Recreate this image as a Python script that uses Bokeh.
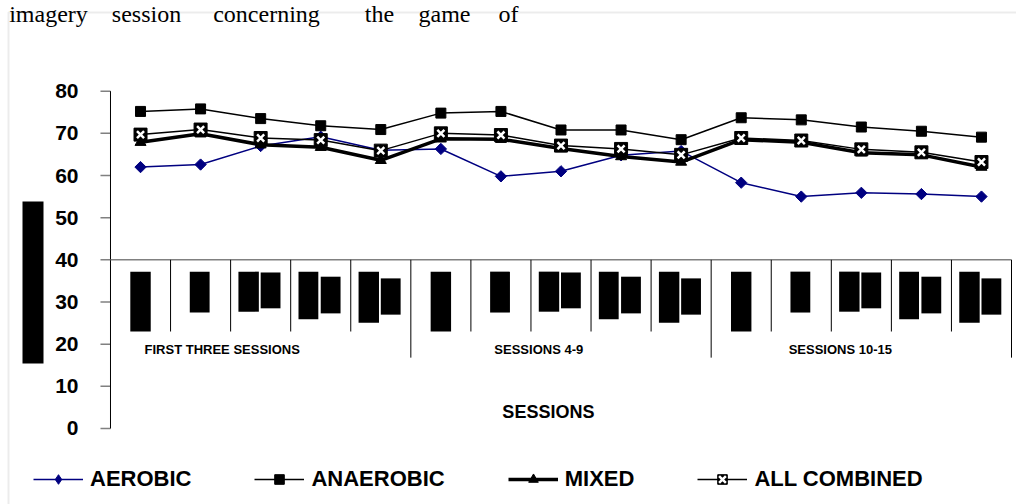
import numpy as np
from bokeh.plotting import figure
from bokeh.models import Range1d, Legend, LegendItem, BoxAnnotation, Label
from bokeh.core.properties import value
from bokeh.embed import file_html
from bokeh.resources import INLINE

# ---------------- data ----------------
sessions = list(range(1, 16))
aerobic = [62.0, 62.6, 67.0, 69.2, 66.0, 66.3, 59.8, 61.0, 64.8, 65.8, 58.3, 55.0, 55.9, 55.6, 55.0]
anaerobic = [75.2, 75.8, 73.5, 71.8, 70.9, 74.8, 75.2, 70.8, 70.8, 68.5, 73.7, 73.2, 71.5, 70.5, 69.1]
mixed = [67.9, 69.9, 67.3, 66.7, 63.6, 68.7, 68.6, 66.4, 64.5, 63.2, 68.5, 67.9, 65.4, 64.9, 62.0]
combined = [69.7, 70.9, 68.9, 68.4, 65.9, 70.0, 69.6, 67.1, 66.3, 64.9, 68.9, 68.3, 66.2, 65.5, 63.2]
series_names = ["AEROBIC", "ANAEROBIC", "MIXED", "ALL COMBINED"]

y_ticks = [0, 10, 20, 30, 40, 50, 60, 70, 80]
y_tick_labels = [str(t) for t in y_ticks]
x_axis_crossing = 40

group_labels = ["FIRST THREE SESSIONS", "SESSIONS 4-9", "SESSIONS 10-15"]
group_label_x = [1.86, 7.13, 12.15]
group_label_y = 18.8
group_size = 5
x_title = "SESSIONS"
x_title_pos = (7.29, 3.8)

caption_words = ["imagery", "session", "concerning", "the", "game", "of"]
caption_center_px = [48, 146, 266, 379, 444, 508]

# unreadable (blacked-out) category labels, repeated in every group
blk_pos = [0, 1, 2, 2, 3, 3, 4, 4]
blk_l = [0.33, 0.32, 0.13, 0.50, 0.13, 0.50, 0.13, 0.50]
blk_r = [0.67, 0.65, 0.47, 0.83, 0.46, 0.83, 0.47, 0.83]
blk_top = [37.2, 37.2, 37.2, 37.0, 37.2, 36.0, 37.2, 35.6]
blk_bot = [23.0, 27.5, 27.7, 28.5, 25.9, 27.3, 25.1, 27.0]
cat_tick_bottom = 23.0
group_tick_bottom = 16.8

# ---------------- figure ----------------
W, H = 1016, 504
n = len(sessions)
x = np.arange(n) + 0.5

p = figure(width=W, height=H, x_range=Range1d(-1.831, 15.083), y_range=Range1d(-18.03, 101.51),
           output_backend="svg", toolbar_location=None, x_axis_location=None, y_axis_location=None,
           min_border_left=0, min_border_right=0, min_border_top=0, min_border_bottom=0)
p.outline_line_color = None
p.grid.visible = False
p.background_fill_color = "white"

font = value("Liberation Sans")

# chart border (gray) and blacked-out y-axis title
p.add_layout(BoxAnnotation(left=8, right=3000, top=H - 12, bottom=-300,
                           left_units="screen", right_units="screen", top_units="screen", bottom_units="screen",
                           fill_color=None, line_color="#c0c0c0", line_width=2))
p.add_layout(BoxAnnotation(left=22, right=43, top=H - 201, bottom=H - 363,
                           left_units="screen", right_units="screen", top_units="screen", bottom_units="screen",
                           fill_color="black", fill_alpha=1, line_color=None))

# value axis (at category position 0)
tick_len = 0.1665
p.segment(x0=[0] * len(y_ticks), y0=y_ticks, x1=[-tick_len] * len(y_ticks), y1=y_ticks,
          line_color="#808080", line_width=1.5)
p.segment(x0=[0], y0=[min(y_ticks)], x1=[0], y1=[max(y_ticks)], line_color="black", line_width=1)
p.text(x=[0] * len(y_ticks), y=y_ticks, text=y_tick_labels, x_offset=-32,
       text_font=font, text_font_style="bold", text_font_size="21px",
       text_align="right", text_baseline="middle", text_color="black")

# horizontal category axis at y = 40
p.segment(x0=[0], y0=[x_axis_crossing], x1=[n], y1=[x_axis_crossing], line_color="#808080", line_width=1.5)
cat_ticks = [i for i in range(1, n + 1) if i % group_size != 0]
grp_ticks = [i for i in range(group_size, n + 1, group_size)]
p.segment(x0=cat_ticks, y0=[x_axis_crossing] * len(cat_ticks), x1=cat_ticks,
          y1=[cat_tick_bottom] * len(cat_ticks), line_color="black", line_width=1)
p.segment(x0=grp_ticks, y0=[x_axis_crossing] * len(grp_ticks), x1=grp_ticks,
          y1=[group_tick_bottom] * len(grp_ticks), line_color="black", line_width=1)

# blacked-out category labels
ql, qr, qt, qb = [], [], [], []
for g in range(n // group_size):
    for pos, l, r, t, b in zip(blk_pos, blk_l, blk_r, blk_top, blk_bot):
        ql.append(g * group_size + pos + l)
        qr.append(g * group_size + pos + r)
        qt.append(t)
        qb.append(b)
p.quad(left=ql, right=qr, top=qt, bottom=qb, fill_color="black", line_color=None)

p.text(x=group_label_x, y=[group_label_y] * len(group_labels), text=group_labels,
       text_font=font, text_font_style="bold", text_font_size="13px",
       text_align="center", text_baseline="middle", text_color="black")
p.text(x=[x_title_pos[0]], y=[x_title_pos[1]], text=[x_title],
       text_font=font, text_font_style="bold", text_font_size="18px",
       text_align="center", text_baseline="middle", text_color="black")

# series
la = p.line(x, aerobic, line_color="#000080", line_width=1.5)
sa = p.scatter(x, aerobic, marker="square", angle=np.pi / 4, size=8, fill_color="#000080", line_color="#000080")
sa_leg = p.scatter(x, aerobic, marker="diamond", size=14, fill_color="#000080", line_color="#000080")
sa_leg.visible = False
ln = p.line(x, anaerobic, line_color="black", line_width=1.5)
sn = p.scatter(x, anaerobic, marker="square", size=10, fill_color="black", line_color="black")
lm = p.line(x, mixed, line_color="black", line_width=3.5)
sm = p.scatter(x, mixed, marker="triangle", size=11, fill_color="black", line_color="black")
lc = p.line(x, combined, line_color="black", line_width=1.5)
sc = p.scatter(x, combined, marker="square", size=13, fill_color="black", line_color="black")
xc = p.scatter(x, combined, marker="x", size=10, line_color="white", line_width=2.5)

legend = Legend(items=[LegendItem(label=series_names[0], renderers=[la, sa_leg]),
                       LegendItem(label=series_names[1], renderers=[ln, sn]),
                       LegendItem(label=series_names[2], renderers=[lm, sm]),
                       LegendItem(label=series_names[3], renderers=[lc, sc, xc])],
                orientation="horizontal", location=(33, 12), glyph_width=50, glyph_height=24,
                label_height=24, label_standoff=7, spacing=63, padding=0, margin=0,
                border_line_color=None, background_fill_alpha=0,
                label_text_font="Liberation Sans", label_text_font_style="bold",
                label_text_font_size="22px", label_text_color="black")
p.add_layout(legend, "center")

# caption text from the surrounding page (cut off at the top in the original)
for w, cx in zip(caption_words, caption_center_px):
    p.add_layout(Label(x=cx, y=H - 0.5, x_units="screen", y_units="screen", text=w,
                       text_font="Liberation Serif", text_font_size="24px", text_align="center",
                       text_baseline="top", text_color="black"))

open("out.html", "w").write(file_html(p, INLINE))
